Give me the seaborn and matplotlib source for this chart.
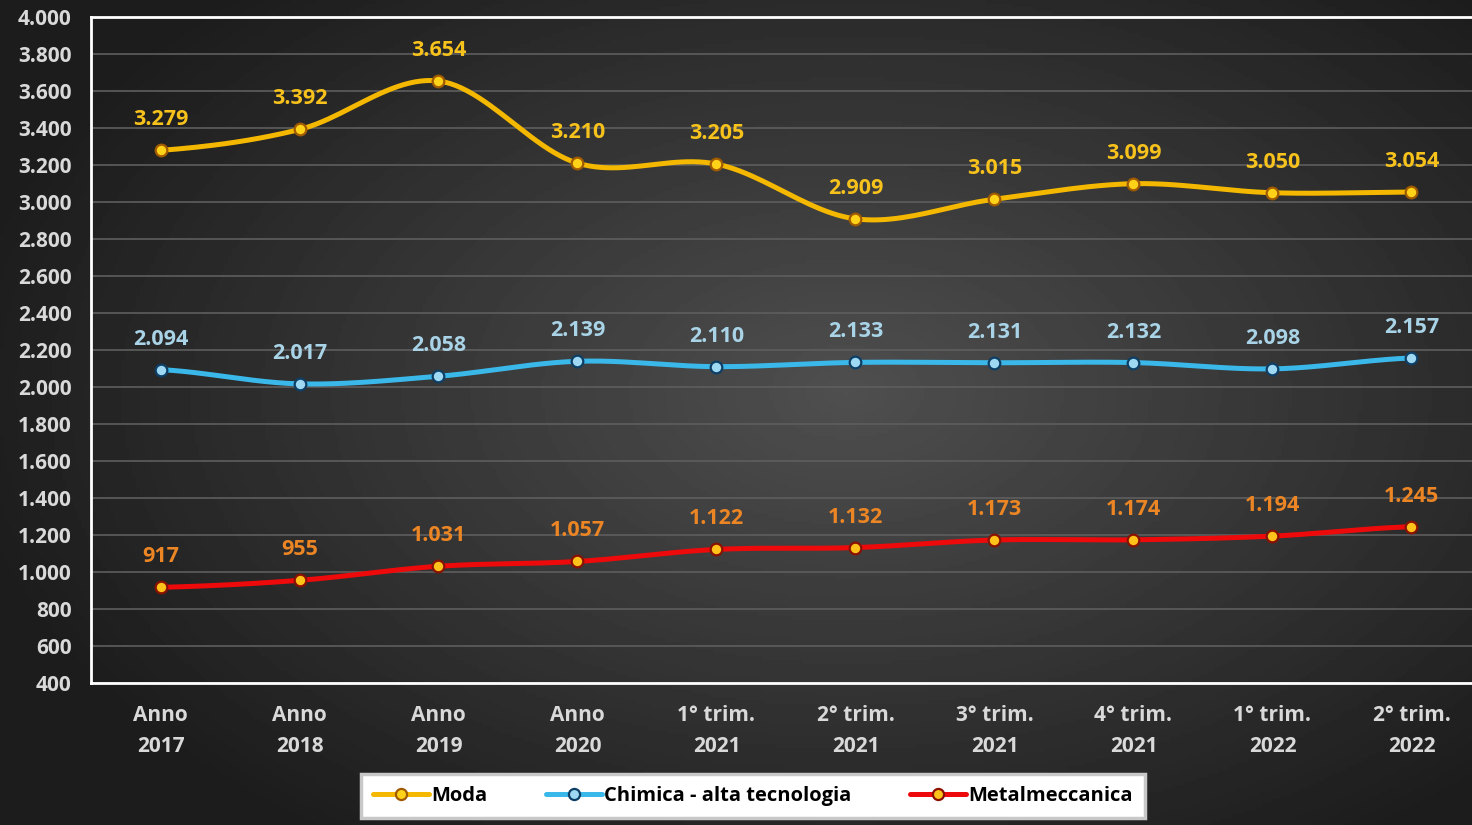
import numpy as np
import pandas as pd
import seaborn as sns
from matplotlib import pyplot as plt
from matplotlib.lines import Line2D

periodi = ["Anno\n2017", "Anno\n2018", "Anno\n2019", "Anno\n2020", "1° trim.\n2021",
           "2° trim.\n2021", "3° trim.\n2021", "4° trim.\n2021", "1° trim.\n2022", "2° trim.\n2022"]
moda = [3279, 3392, 3654, 3210, 3205, 2909, 3015, 3099, 3050, 3054]
chimica = [2094, 2017, 2058, 2139, 2110, 2133, 2131, 2132, 2098, 2157]
metalmeccanica = [917, 955, 1031, 1057, 1122, 1132, 1173, 1174, 1194, 1245]
y_ticks = list(range(400, 4001, 200))

# name, values, line colour, marker face, marker edge, label colour
serie = [
    ("Moda", moda, "#f5b800", "#ffd21a", "#a05a00", "#f7c21c"),
    ("Chimica - alta tecnologia", chimica, "#3bb8ea", "#9fd8f2", "#0d3f66", "#a9d3e6"),
    ("Metalmeccanica", metalmeccanica, "#ee0a0a", "#ffc21a", "#8a1000", "#ec8624"),
]


def fmt_it(v):
    return f"{v:,}".replace(",", ".")


def catmull_rom(y, n=24):
    """Smooth curve through the points, like Excel's smoothed line."""
    y = np.asarray(y, dtype=float)
    p = np.concatenate([[y[0]], y, [y[-1]]])
    xs, ys = [], []
    for i in range(len(y) - 1):
        p0, p1, p2, p3 = p[i], p[i + 1], p[i + 2], p[i + 3]
        t = np.linspace(0, 1, n, endpoint=False)
        yy = 0.5 * ((2 * p1) + (-p0 + p2) * t + (2 * p0 - 5 * p1 + 4 * p2 - p3) * t ** 2
                    + (-p0 + 3 * p1 - 3 * p2 + p3) * t ** 3)
        xs.extend(i + t)
        ys.extend(yy)
    xs.append(len(y) - 1)
    ys.append(y[-1])
    return np.array(xs), np.array(ys)


sns.set_theme(style="dark")
plt.rcParams["font.family"] = ["Open Sans", "DejaVu Sans"]
plt.rcParams["font.weight"] = "bold"

fig = plt.figure(figsize=(14.72, 8.25), dpi=100)
fig.patch.set_facecolor("#2a2a2a")

# radial gradient background
bg = fig.add_axes([0, 0, 1, 1], zorder=-10)
gx, gy = np.meshgrid(np.linspace(-1, 1, 400), np.linspace(-1, 1, 225))
r = np.sqrt(((gx - 0.15) / 1.1) ** 2 + ((gy + 0.05) / 1.2) ** 2)
shade = np.clip(0.31 - 0.18 * r, 0.11, 0.31)
bg.imshow(shade, cmap="gray", vmin=0, vmax=1, aspect="auto", extent=[0, 1, 0, 1])
bg.set_axis_off()

ax = fig.add_axes([91 / 1472, 1 - 683 / 825, 1390 / 1472, 666 / 825])
ax.set_facecolor("none")

for name, vals, lc, mf, me, tc in serie:
    xs, ys = catmull_rom(vals)
    sns.lineplot(x=xs, y=ys, sort=False, color=lc, linewidth=3.6, ax=ax, zorder=3)
    sns.scatterplot(x=np.arange(len(vals)), y=vals, s=70, color=mf, edgecolor=me,
                    linewidth=1.6, ax=ax, zorder=4)
    for i, v in enumerate(vals):
        ax.annotate(fmt_it(v), (i, v), xytext=(0, 22), textcoords="offset points",
                    ha="center", va="center", color=tc, fontsize=15.5, fontweight="bold",
                    zorder=5)

ax.set_xlim(-0.5, len(periodi) - 0.5)
ax.set_ylim(400, 4000)
ax.set_yticks(y_ticks)
ax.set_yticklabels([fmt_it(v) for v in y_ticks])
ax.set_xticks(range(len(periodi)))
ax.set_xticklabels(periodi, linespacing=1.6)
ax.tick_params(axis="both", colors="#d9d9d9", labelsize=15, length=0)
ax.tick_params(axis="x", pad=16)
ax.tick_params(axis="y", pad=14)
for lab in ax.get_xticklabels() + ax.get_yticklabels():
    lab.set_fontweight("bold")
ax.grid(axis="y", color="#5e5e5e", linewidth=1.2)
ax.grid(axis="x", visible=False)
ax.set_axisbelow(True)
for side in ["left", "bottom", "top"]:
    ax.spines[side].set_visible(True)
    ax.spines[side].set_color("white")
    ax.spines[side].set_linewidth(2)
ax.spines["right"].set_visible(False)
ax.set_xlabel("")
ax.set_ylabel("")

handles = [Line2D([0], [0], color=lc, linewidth=3.6, marker="o", markersize=8,
                  markerfacecolor=mf, markeredgecolor=me, markeredgewidth=1.6)
           for _, _, lc, mf, me, _ in serie]
leg = fig.legend(handles, [s[0] for s in serie], loc="center", ncol=3,
                 bbox_to_anchor=(753 / 1472, 1 - 796 / 825), frameon=True, fancybox=False,
                 facecolor="white", edgecolor="#c8c8c8", framealpha=1,
                 prop={"size": 14.5, "weight": "bold"}, handlelength=2.8, handletextpad=0.1,
                 columnspacing=2.9, borderpad=0.6, borderaxespad=0)
leg.get_frame().set_linewidth(2.5)
for t in leg.get_texts():
    t.set_color("black")

fig.savefig("out.png", dpi=100, facecolor=fig.get_facecolor())
